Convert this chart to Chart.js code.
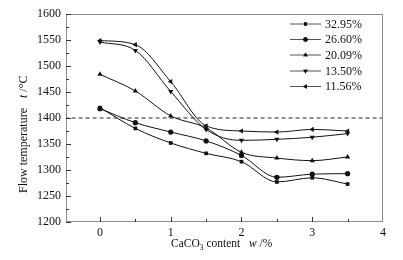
<!DOCTYPE html>
<html>
<head>
<meta charset="utf-8">
<script src="https://cdn.jsdelivr.net/npm/chart.js@4.4.0/dist/chart.umd.min.js"></script>
<style>
  html, body { margin: 0; padding: 0; background: #fff; }
  #wrap { width: 403px; height: 260px; position: relative; }
</style>
</head>
<body>
<div id="wrap"><canvas id="c" width="403" height="260"></canvas></div>
<script>
// Данные
const caco3 = [0, 0.5, 1, 1.5, 2, 2.5, 3, 3.5];
const seriesNames = ['32.95%', '26.60%', '20.09%', '13.50%', '11.56%'];
const s3295 = [1420, 1380, 1352, 1332, 1316, 1277, 1285, 1273];
const s2660 = [1418, 1391, 1373, 1356, 1328, 1286, 1292, 1293];
const s2009 = [1484, 1452, 1404, 1381, 1334, 1323, 1318, 1325];
const s1350 = [1546, 1530, 1451, 1378, 1357, 1359, 1363, 1370];
const s1156 = [1549, 1541, 1470, 1385, 1375, 1373, 1378, 1375];
const xTicks = [0, 1, 2, 3, 4];
const yTicks = [1200, 1250, 1300, 1350, 1400, 1450, 1500, 1550, 1600];
const threshold = 1400;

const allSeries = [s3295, s2660, s2009, s1350, s1156];
const markers = [
    { style: 'rect', rot: 0, r: 2.6 },
    { style: 'circle', rot: 0, r: 2.6 },
    { style: 'triangle', rot: 0, r: 3 },
    { style: 'triangle', rot: 180, r: 3 },
    { style: 'triangle', rot: 270, r: 3 }
];
const serif = '"Liberation Serif", "Times New Roman", serif';

const datasets = allSeries.map((vals, i) => ({
    label: seriesNames[i],
    data: vals.map((v, j) => ({ x: caco3[j], y: v })),
    borderColor: '#111',
    backgroundColor: '#111',
    borderWidth: 1,
    cubicInterpolationMode: 'monotone',
    pointStyle: markers[i].style,
    pointRotation: markers[i].rot,
    pointRadius: markers[i].r,
    pointBorderWidth: 0
}));

// пунктирная линия 1400 °C на всю ширину
datasets.push({
    label: 'limit',
    data: [{ x: -0.5, y: threshold }, { x: 4, y: threshold }],
    borderColor: '#222',
    borderWidth: 1,
    borderDash: [4, 3],
    pointRadius: 0,
    tension: 0
});

// засечки внутрь, рамка, подписи осей и легенда
const decorPlugin = {
    id: 'decor',
    afterDraw(chart) {
        const ctx = chart.ctx;
        const a = chart.chartArea;
        const xs = chart.scales.x;
        const ys = chart.scales.y;
        ctx.save();
        ctx.strokeStyle = '#8a8a8a';
        ctx.lineWidth = 1;
        ctx.strokeRect(a.left + 0.5, a.top + 0.5, a.right - a.left - 1, a.bottom - a.top - 1);

        ctx.strokeStyle = '#333';
        ctx.beginPath();
        for (let v = 1200; v <= 1600; v += 25) {
            const y = Math.round(ys.getPixelForValue(v)) + 0.5;
            const len = (v % 50 === 0) ? 5 : 3;
            ctx.moveTo(a.left, y);
            ctx.lineTo(a.left + len, y);
        }
        for (let v = 0; v <= 3.5; v += 0.5) {
            const x = Math.round(xs.getPixelForValue(v)) + 0.5;
            const len = (v % 1 === 0) ? 5 : 3;
            ctx.moveTo(x, a.bottom);
            ctx.lineTo(x, a.bottom - len);
        }
        ctx.stroke();

        // подпись оси X
        ctx.fillStyle = '#111';
        ctx.textBaseline = 'alphabetic';
        ctx.textAlign = 'left';
        ctx.font = '11.5px ' + serif;
        let x = 171;
        const by = 247;
        ctx.fillText('CaCO', x, by);
        x += ctx.measureText('CaCO').width;
        ctx.font = '7.5px ' + serif;
        ctx.fillText('3', x, by + 3);
        x += ctx.measureText('3').width;
        ctx.font = '11.5px ' + serif;
        ctx.fillText(' content', x, by);
        ctx.font = 'italic 11.5px ' + serif;
        ctx.fillText('w', 249, by);
        const ww = ctx.measureText('w').width;
        ctx.font = '11.5px ' + serif;
        ctx.fillText(' /%', 249 + ww, by);

        // подпись оси Y
        ctx.save();
        ctx.translate(27, 193);
        ctx.rotate(-Math.PI / 2);
        ctx.font = '12px ' + serif;
        ctx.fillText('Flow temperature', 0, 0);
        let tx = ctx.measureText('Flow temperature').width + 10;
        ctx.font = 'italic 12px ' + serif;
        ctx.fillText('t', tx, 0);
        tx += ctx.measureText('t').width;
        ctx.font = '12px ' + serif;
        ctx.fillText(' /\u00B0C', tx, 0);
        ctx.restore();

        // легенда
        const rowY = [23.5, 39, 54.5, 70.5, 86];
        seriesNames.forEach((name, i) => {
            const y = rowY[i];
            ctx.strokeStyle = '#555';
            ctx.beginPath();
            ctx.moveTo(290, y + 0.5);
            ctx.lineTo(321, y + 0.5);
            ctx.stroke();
            ctx.fillStyle = '#111';
            Chart.helpers.drawPoint(ctx, {
                pointStyle: markers[i].style,
                rotation: markers[i].rot,
                radius: markers[i].r * 0.85,
                borderWidth: 0
            }, 305.5, y + 0.5);
            ctx.fill();
            ctx.font = '12px ' + serif;
            ctx.textBaseline = 'middle';
            ctx.fillText(name, 325, y + 1);
        });
        ctx.restore();
    }
};

new Chart(document.getElementById('c'), {
    type: 'line',
    data: { datasets },
    options: {
        responsive: false,
        animation: false,
        layout: { padding: { left: 0, top: 14, right: 20, bottom: 0 } },
        plugins: {
            legend: { display: false },
            tooltip: { enabled: false }
        },
        scales: {
            x: {
                type: 'linear',
                min: -0.48,
                max: 4,
                afterBuildTicks: s => { s.ticks = xTicks.map(v => ({ value: v })); },
                afterFit: s => { s.height = 38; },
                grid: { display: false, drawTicks: false, tickLength: 0 },
                border: { display: false },
                ticks: {
                    color: '#111',
                    font: { family: serif, size: 12 },
                    padding: 4,
                    callback: v => String(v)
                }
            },
            y: {
                min: 1200,
                max: 1600,
                afterBuildTicks: s => { s.ticks = yTicks.map(v => ({ value: v })); },
                afterFit: s => { s.width = 66; },
                grid: { display: false, drawTicks: false, tickLength: 0 },
                border: { display: false },
                ticks: {
                    color: '#111',
                    font: { family: serif, size: 12 },
                    padding: 5,
                    callback: v => String(v)
                }
            }
        }
    },
    plugins: [decorPlugin]
});
</script>
</body>
</html>
